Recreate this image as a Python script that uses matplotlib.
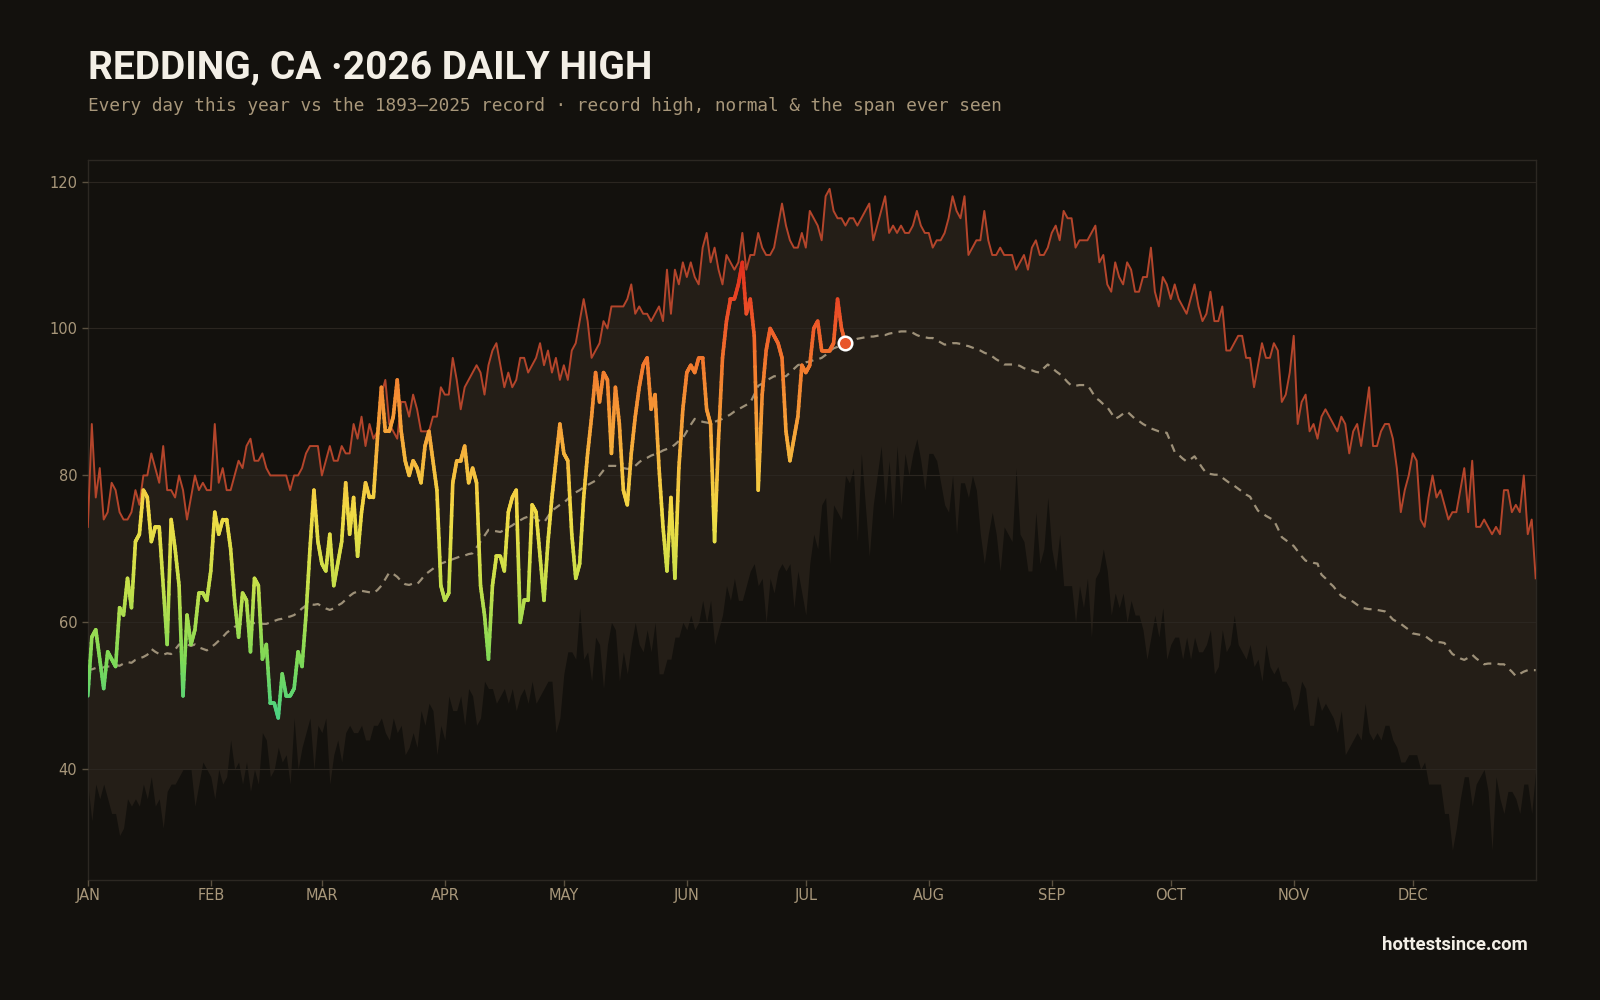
import numpy as np
import matplotlib.pyplot as plt
from matplotlib.collections import LineCollection
from matplotlib.colors import LinearSegmentedColormap, Normalize

# record high, day 0 .. 365
record_high = [
    73, 87, 77, 81, 74, 75, 79, 78, 75, 74, 74, 75, 78, 76, 80, 80, 83, 81, 79, 84,
    78, 78, 77, 80, 78, 74, 77, 80, 78, 79, 78, 78, 87, 79, 81, 78, 78, 80, 82, 81,
    84, 85, 82, 82, 83, 81, 80, 80, 80, 80, 80, 78, 80, 80, 81, 83, 84, 84, 84, 80,
    82, 84, 82, 82, 84, 83, 83, 87, 85, 88, 84, 87, 85, 86, 91, 93, 87, 86, 85, 90,
    90, 88, 91, 89, 86, 86, 86, 88, 88, 92, 91, 91, 96, 93, 89, 92, 93, 94, 95, 94,
    91, 95, 97, 98, 95, 92, 94, 92, 93, 96, 96, 94, 95, 96, 98, 95, 97, 94, 96, 93,
    95, 93, 97, 98, 101, 104, 101, 96, 97, 98, 101, 100, 103, 103, 103, 103, 104, 106, 102, 103,
    102, 102, 101, 102, 103, 101, 108, 102, 108, 106, 109, 107, 109, 107, 106, 111, 113, 109, 111, 108,
    106, 110, 109, 108, 109, 113, 108, 110, 110, 113, 111, 110, 110, 111, 114, 117, 114, 112, 111, 111,
    113, 111, 116, 115, 114, 112, 118, 119, 116, 115, 115, 114, 115, 115, 114, 115, 116, 117, 112, 114,
    116, 118, 113, 114, 113, 114, 113, 113, 114, 116, 114, 113, 113, 111, 112, 112, 113, 115, 118, 116,
    115, 118, 110, 111, 112, 112, 116, 112, 110, 110, 111, 110, 110, 110, 108, 109, 110, 108, 111, 112,
    110, 110, 111, 113, 114, 112, 116, 115, 115, 111, 112, 112, 112, 113, 114, 109, 110, 106, 105, 109,
    107, 106, 109, 108, 105, 105, 107, 107, 111, 105, 103, 107, 106, 104, 106, 104, 103, 102, 104, 106,
    103, 101, 102, 105, 101, 101, 103, 97, 97, 98, 99, 99, 96, 96, 92, 95, 98, 96, 96, 98,
    97, 90, 91, 94, 99, 87, 90, 91, 86, 87, 85, 88, 89, 88, 87, 86, 88, 87, 83, 86,
    87, 84, 88, 92, 84, 84, 86, 87, 87, 85, 81, 75, 78, 80, 83, 82, 74, 73, 77, 80,
    77, 78, 76, 74, 75, 75, 78, 81, 75, 82, 73, 73, 74, 73, 72, 73, 72, 78, 78, 75,
    76, 75, 80, 72, 74, 66,
]

# record low, day 0 .. 365
record_low = [
    38, 33, 38, 36, 38, 36, 34, 34, 31, 32, 36, 35, 36, 35, 38, 36, 39, 35, 36, 32,
    37, 38, 38, 39, 40, 40, 40, 35, 38, 41, 40, 39, 36, 40, 38, 39, 44, 40, 41, 38,
    41, 37, 40, 38, 45, 44, 39, 40, 43, 41, 42, 38, 47, 40, 43, 45, 47, 40, 46, 45,
    47, 38, 42, 44, 41, 45, 46, 45, 45, 46, 44, 44, 46, 46, 47, 45, 44, 47, 45, 46,
    42, 43, 45, 43, 48, 46, 49, 48, 42, 46, 44, 50, 48, 48, 50, 46, 51, 50, 46, 47,
    52, 51, 51, 49, 50, 51, 49, 51, 48, 50, 51, 49, 52, 49, 50, 51, 52, 52, 45, 47,
    53, 56, 56, 55, 62, 55, 56, 52, 58, 57, 51, 57, 60, 59, 52, 56, 53, 57, 60, 57,
    56, 59, 56, 60, 53, 53, 55, 55, 58, 58, 60, 59, 61, 59, 60, 63, 60, 63, 57, 59,
    61, 65, 63, 66, 63, 63, 65, 67, 68, 65, 66, 60, 66, 64, 67, 68, 67, 68, 62, 67,
    64, 61, 68, 72, 70, 76, 77, 68, 76, 75, 74, 80, 79, 81, 71, 83, 76, 69, 76, 80,
    84, 76, 82, 74, 84, 76, 83, 80, 83, 85, 82, 78, 83, 83, 82, 79, 76, 75, 80, 72,
    79, 79, 77, 80, 78, 72, 68, 72, 75, 72, 67, 73, 72, 71, 81, 72, 71, 67, 67, 75,
    68, 70, 77, 70, 67, 72, 65, 65, 65, 60, 65, 62, 66, 58, 66, 67, 70, 67, 61, 64,
    62, 64, 60, 63, 61, 61, 59, 55, 58, 61, 58, 62, 55, 57, 58, 58, 55, 58, 55, 58,
    56, 56, 57, 59, 53, 54, 59, 56, 57, 61, 57, 56, 55, 57, 54, 55, 52, 57, 54, 53,
    54, 52, 52, 51, 48, 49, 52, 51, 46, 46, 50, 48, 49, 48, 47, 45, 48, 42, 43, 44,
    45, 44, 49, 45, 44, 45, 44, 46, 46, 44, 43, 41, 41, 42, 42, 42, 40, 41, 38, 38,
    38, 38, 34, 34, 29, 32, 36, 39, 39, 35, 38, 39, 40, 37, 29, 39, 36, 34, 37, 37,
    36, 34, 38, 38, 34, 40,
]

# normal high, day 0 .. 365
normal = [
    53.7, 53.6, 53.8, 53.7, 53.9, 54.0, 54.0, 54.2, 54.1, 54.4,
    54.6, 54.5, 54.9, 55.1, 55.3, 55.6, 56.4, 56.0, 55.7, 55.6,
    55.8, 55.7, 56.3, 57.0, 56.9, 57.0, 56.8, 57.0, 56.6, 56.4,
    56.2, 56.6, 57.0, 57.5, 58.0, 58.6, 59.0, 59.4, 59.6, 59.9,
    60.0, 60.1, 59.9, 60.0, 59.8, 59.8, 60.0, 60.2, 60.4, 60.5,
    60.7, 60.8, 61.0, 61.4, 61.9, 62.3, 62.5, 62.4, 62.5, 62.2,
    61.9, 61.7, 61.9, 62.3, 62.6, 63.1, 63.6, 64.0, 64.2, 64.3,
    64.2, 64.1, 64.0, 64.4, 65.0, 65.9, 66.8, 66.6, 66.2, 65.6,
    65.2, 65.1, 65.3, 65.2, 65.8, 66.5, 66.9, 67.3, 67.8, 68.0,
    68.2, 68.4, 68.6, 68.8, 69.0, 69.1, 69.3, 69.4, 70.2, 71.0,
    71.8, 72.6, 72.5, 72.4, 72.3, 72.6, 72.9, 73.2, 73.6, 73.9,
    74.2, 74.4, 74.5, 74.1, 73.8, 73.6, 74.4, 75.2, 75.6, 76.0,
    76.3, 76.8, 77.4, 77.7, 78.0, 78.4, 78.7, 79.0, 79.3, 80.0,
    80.7, 81.3, 81.3, 81.3, 81.2, 81.0, 80.9, 80.9, 81.3, 81.8,
    82.2, 82.4, 82.7, 82.9, 83.1, 83.4, 83.6, 83.8, 84.2, 84.7,
    85.1, 86.0, 86.9, 87.7, 87.5, 87.3, 87.2, 87.1, 87.3, 87.5,
    87.7, 88.0, 88.3, 88.7, 89.0, 89.3, 89.6, 89.9, 91.0, 92.2,
    92.5, 92.9, 93.2, 93.5, 93.5, 93.5, 93.5, 94.0, 94.5, 95.0,
    95.2, 95.4, 95.5, 95.7, 95.8, 96.0, 96.4, 96.9, 97.3, 97.5,
    97.8, 98.0, 98.2, 98.4, 98.6, 98.7, 98.8, 98.9, 98.9, 99.0,
    99.1, 99.1, 99.3, 99.4, 99.5, 99.6, 99.6, 99.6, 99.4, 99.1,
    98.9, 98.8, 98.7, 98.7, 98.4, 98.1, 97.8, 97.9, 98.0, 98.0,
    97.9, 97.7, 97.6, 97.4, 97.2, 97.0, 96.7, 96.5, 96.2, 95.8,
    95.5, 95.1, 95.1, 95.1, 95.1, 94.9, 94.6, 94.4, 94.3, 94.1,
    94.0, 94.6, 95.1, 94.7, 94.2, 93.8, 93.3, 92.7, 92.2, 92.2,
    92.3, 92.3, 92.3, 91.5, 90.6, 90.2, 89.7, 89.3, 88.5, 87.7,
    88.0, 88.4, 88.7, 88.2, 87.7, 87.4, 87.0, 86.7, 86.4, 86.2,
    86.0, 85.9, 85.8, 84.5, 83.2, 82.8, 82.3, 81.9, 82.2, 82.6,
    81.8, 81.0, 80.3, 80.2, 80.1, 80.1, 79.7, 79.3, 78.9, 78.6,
    78.2, 77.8, 77.4, 77.1, 76.1, 75.2, 74.9, 74.5, 74.2, 73.9,
    72.8, 71.6, 71.2, 70.8, 70.4, 69.7, 69.0, 68.4, 68.3, 68.1,
    68.0, 66.5, 66.0, 65.4, 64.9, 64.2, 63.6, 63.3, 63.1, 62.8,
    62.4, 62.0, 61.9, 61.8, 61.8, 61.7, 61.6, 61.5, 61.0, 60.4,
    60.1, 59.8, 59.4, 59.0, 58.5, 58.4, 58.3, 58.2, 57.8, 57.4,
    57.3, 57.3, 57.2, 56.4, 55.7, 55.4, 55.1, 54.9, 55.2, 55.6,
    55.1, 54.7, 54.3, 54.4, 54.4, 54.4, 54.3, 54.3, 53.8, 53.3,
    52.7, 53.0, 53.3, 53.5, 53.5, 53.5,
]

# 2026 daily highs so far (Jan 1 .. Jul 11)
highs_2026 = [
    50, 58, 59, 55, 51, 56, 55, 54, 62, 61, 66, 62, 71, 72, 78, 77, 71, 73, 73, 65,
    57, 74, 70, 65, 50, 61, 57, 59, 64, 64, 63, 67, 75, 72, 74, 74, 70, 63, 58, 64,
    63, 56, 66, 65, 55, 57, 49, 49, 47, 53, 50, 50, 51, 56, 54, 61, 70, 78, 71, 68,
    67, 72, 65, 68, 71, 79, 72, 77, 69, 75, 79, 77, 77, 85, 92, 86, 86, 88, 93, 86,
    82, 80, 82, 81, 79, 84, 86, 82, 78, 65, 63, 64, 79, 82, 82, 84, 79, 81, 79, 65,
    61, 55, 65, 69, 69, 67, 75, 77, 78, 60, 63, 63, 76, 75, 69, 63, 71, 77, 82, 87,
    83, 82, 72, 66, 68, 77, 83, 88, 94, 90, 94, 93, 83, 92, 87, 78, 76, 83, 88, 92,
    95, 96, 89, 91, 81, 73, 67, 77, 66, 81, 89, 94, 95, 94, 96, 96, 89, 87, 71, 85,
    96, 101, 104, 104, 106, 109, 102, 104, 99, 78, 91, 97, 100, 99, 98, 96, 86, 82, 85, 88,
    95, 94, 95, 100, 101, 97, 97, 97, 98, 104, 100, 98,
]

month_starts = [0, 31, 59, 90, 120, 151, 181, 212, 243, 273, 304, 334]
month_labels = ["JAN", "FEB", "MAR", "APR", "MAY", "JUN",
                "JUL", "AUG", "SEP", "OCT", "NOV", "DEC"]
y_ticks = [40, 60, 80, 100, 120]

BG = "#13110d"
BAND = "#241e17"
TXT = "#a8977a"

days = np.arange(len(record_high))

fig = plt.figure(figsize=(16, 10), dpi=100, facecolor=BG)
ax = fig.add_axes([0.0549, 0.1204, 0.9049, 0.7194])
ax.set_facecolor(BG)

# span ever seen + record high
ax.fill_between(days, record_low, record_high, color=BAND, lw=0, zorder=1)
ax.plot(days, record_high, color="#b4452b", lw=1.4, zorder=3)
ax.plot(days, normal, color="#9d9078", lw=1.6, dashes=(3.6, 2.8), zorder=3)

# 2026 line, coloured by temperature
cmap = LinearSegmentedColormap.from_list("heat", [
    (0.00, "#3ecf8e"), (0.15, "#7ed957"), (0.31, "#c7e04a"),
    (0.46, "#f2dc45"), (0.62, "#f7a83a"), (0.77, "#f27a2e"),
    (0.88, "#ec5028"), (1.00, "#e02a1c")])
norm = Normalize(45, 110)
t26 = np.array(highs_2026, float)
d26 = np.arange(len(t26))
sub = 10
xs = np.concatenate([np.linspace(d26[i], d26[i + 1], sub, endpoint=False)
                     for i in range(len(t26) - 1)] + [d26[-1:]])
ys = np.interp(xs, d26, t26)
pts = np.column_stack([xs, ys]).reshape(-1, 1, 2)
segs = np.concatenate([pts[:-1], pts[1:]], axis=1)
lc = LineCollection(segs, colors=cmap(norm((ys[:-1] + ys[1:]) / 2)),
                    linewidths=2.6, capstyle="round", joinstyle="round", zorder=4)
ax.add_collection(lc)
ax.scatter(d26[-1], t26[-1], s=95, facecolor="#e8552b", edgecolor="white",
           linewidth=1.8, zorder=5)

ax.set_xlim(0, 365)
ax.set_ylim(25, 122.9)
ax.set_xticks(month_starts)
ax.set_xticklabels(month_labels)
ax.set_yticks(y_ticks)
ax.grid(axis="y", color="#2b2620", lw=0.8)
ax.set_axisbelow(False)
for gl in ax.get_ygridlines():
    gl.set_zorder(2)
ax.tick_params(colors="#5a5040", labelcolor=TXT, labelsize=10.5, length=4, width=1)
ax.tick_params(axis="x", pad=2)
for s in ax.spines.values():
    s.set_color("#2c2822")
    s.set_linewidth(1)

title_font = ["Liberation Sans Narrow", "Roboto", "DejaVu Sans"]
fig.text(0.055, 0.9214, "REDDING, CA \u00b72026 DAILY HIGH", family=title_font,
         fontweight="bold", fontsize=28, color="#f3efe6", va="baseline")
fig.text(0.055, 0.8888, "Every day this year vs the 1893\u20132025 record \u00b7 record high, normal & the span ever seen",
         family="DejaVu Sans Mono", fontsize=12.75, color=TXT, va="baseline")
fig.text(0.955, 0.050, "hottestsince.com", family=title_font, fontweight="bold",
         fontsize=13.3, color="#f3efe6", ha="right", va="baseline")

fig.savefig("out.png", dpi=100, facecolor=BG)
